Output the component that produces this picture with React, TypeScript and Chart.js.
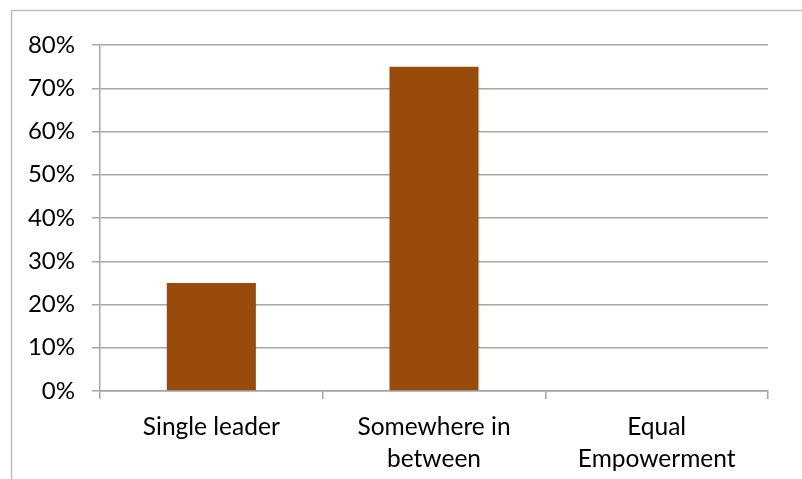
import React, { useEffect, useRef } from "react";
import { Chart, registerables } from "chart.js";

Chart.register(...registerables);

const categories: (string | string[])[] = [
  "Single leader",
  ["Somewhere in", "between"],
  ["Equal", "Empowerment"],
];
const shares: number[] = [25, 75, 0];
const yMin = 0;
const yMax = 80;
const yStep = 10;

const FONT = "Lato, 'Open Sans', sans-serif";

const frame = {
  id: "frame",
  beforeDraw(chart: any) {
    const ctx = chart.ctx;
    ctx.save();
    ctx.strokeStyle = "#BFBFBF";
    ctx.lineWidth = 1.5;
    ctx.beginPath();
    ctx.moveTo(11.5, chart.height + 5);
    ctx.lineTo(11.5, 10.5);
    ctx.lineTo(chart.width + 5, 10.5);
    ctx.stroke();
    ctx.restore();
  },
};

export default function App() {
  const ref = useRef<HTMLCanvasElement>(null);
  useEffect(() => {
    if (!ref.current) return;
    const chart = new Chart(ref.current, {
      type: "bar",
      data: {
        labels: categories,
        datasets: [
          {
            data: shares,
            backgroundColor: "#984B0B",
            barPercentage: 0.4,
            categoryPercentage: 1,
          },
        ],
      },
      options: {
        animation: false,
        responsive: true,
        maintainAspectRatio: false,
        layout: { padding: { left: 0, right: 34, top: 45, bottom: 0 } },
        plugins: { legend: { display: false }, tooltip: { enabled: false } },
        scales: {
          x: {
            afterFit: (s: any) => {
              s.height = 88;
            },
            grid: {
              offset: true,
              drawOnChartArea: false,
              drawTicks: true,
              tickLength: 8,
              color: "#A6A6A6",
              lineWidth: 1.5,
            },
            border: { color: "#A6A6A6", width: 1.5 },
            ticks: {
              color: "#000000",
              font: { family: FONT, size: 24.5, lineHeight: 1.27 },
              padding: 13,
              maxRotation: 0,
              autoSkip: false,
            },
          },
          y: {
            min: yMin,
            max: yMax,
            afterFit: (s: any) => {
              s.width = 100;
            },
            grid: {
              color: "#A6A6A6",
              lineWidth: 1.5,
              tickLength: 8,
            },
            border: { color: "#A6A6A6", width: 1.5 },
            ticks: {
              stepSize: yStep,
              color: "#000000",
              font: { family: FONT, size: 24 },
              padding: 17,
              callback: (v: any) => v + "%",
            },
          },
        },
      },
      plugins: [frame],
    });
    return () => chart.destroy();
  }, []);
  return (
    <div style={{ position: "fixed", left: 0, top: 0, width: 802, height: 479, background: "#fff" }}>
      <canvas ref={ref} />
    </div>
  );
}
